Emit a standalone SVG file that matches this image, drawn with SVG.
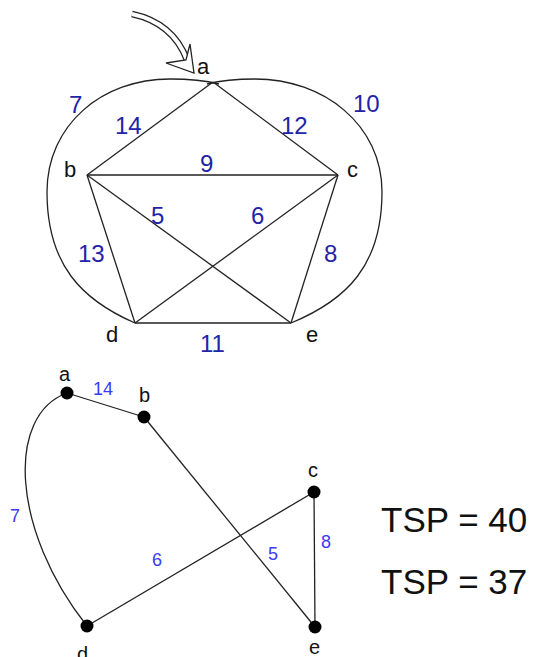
<svg xmlns="http://www.w3.org/2000/svg" width="533" height="657" viewBox="0 0 533 657">
<style>
.e{fill:none;stroke:#222;stroke-width:1.3}
.lbl{font-family:"Liberation Sans",Arial,sans-serif;fill:#111}
.w1{font-family:"Liberation Sans",Arial,sans-serif;fill:#2323a8;font-size:24px}
.w2{font-family:"Liberation Sans",Arial,sans-serif;fill:#3a3af5;font-size:18px}
.dot{fill:#000}
</style>
<rect width="533" height="657" fill="#fff"/>
<g id="start-arrow">
<path d="M132,14 C160,20 178,36 187,60" fill="none" stroke="#222" stroke-width="6.5"/>
<path d="M132,14 C160,20 178,36 187,60" fill="none" stroke="#fff" stroke-width="4"/>
<polygon points="166,63 194,73 190,44 186,60" fill="#fff" stroke="#222" stroke-width="1.3" stroke-linejoin="miter"/>
</g>
<g id="edges-top">
<path class="e" d="M219,84 C203,80 190,79 170,79 C102,79 47,125 47,192 C47,265 82,300 135,323"/>
<path class="e" d="M207,84 C223,80 236,79 255,79 C324,79 382,125 382,192 C382,265 347,300 291,323"/>
<line class="e" x1="213" y1="82" x2="87" y2="175"/>
<line class="e" x1="213" y1="82" x2="338" y2="175"/>
<line class="e" x1="87" y1="175" x2="338" y2="175"/>
<line class="e" x1="87" y1="175" x2="135" y2="323"/>
<line class="e" x1="87" y1="175" x2="291" y2="323"/>
<line class="e" x1="338" y1="175" x2="135" y2="323"/>
<line class="e" x1="338" y1="175" x2="291" y2="323"/>
<line class="e" x1="135" y1="323" x2="291" y2="323"/>
</g>
<g id="nodes-top">
<g id="ta"><text class="lbl" x="197" y="74" font-size="22">a</text></g>
<g id="tb"><text class="lbl" x="64" y="177" font-size="22">b</text></g>
<g id="tc"><text class="lbl" x="347" y="177" font-size="22">c</text></g>
<g id="td"><text class="lbl" x="106" y="342" font-size="22">d</text></g>
<g id="te"><text class="lbl" x="306" y="342" font-size="22">e</text></g>
</g>
<g id="weights-top">
<text class="w1" x="69" y="113">7</text>
<text class="w1" x="115" y="134">14</text>
<text class="w1" x="281" y="134">12</text>
<text class="w1" x="353" y="112">10</text>
<text class="w1" x="200" y="172">9</text>
<text class="w1" x="151" y="224">5</text>
<text class="w1" x="251" y="224">6</text>
<text class="w1" x="78" y="262">13</text>
<text class="w1" x="324" y="262">8</text>
<text class="w1" x="200" y="352">11</text>
</g>
<g id="edges-bottom">
<line class="e" x1="67" y1="393" x2="144" y2="417"/>
<line class="e" x1="144" y1="417" x2="315" y2="627"/>
<line class="e" x1="314" y1="492" x2="87" y2="626"/>
<line class="e" x1="314" y1="492" x2="315" y2="627"/>
<path class="e" d="M67,393 C6,415 11,530 87,626"/>
</g>
<g id="nodes-bottom">
<g id="ba"><circle class="dot" cx="67" cy="393" r="6.5"/><text class="lbl" x="59" y="381" font-size="20">a</text></g>
<g id="bb"><circle class="dot" cx="144" cy="417" r="6.5"/><text class="lbl" x="139" y="402" font-size="20">b</text></g>
<g id="bc"><circle class="dot" cx="314" cy="492" r="6.5"/><text class="lbl" x="308" y="477" font-size="20">c</text></g>
<g id="bd"><circle class="dot" cx="87" cy="626" r="6.5"/><text class="lbl" x="77" y="661" font-size="20">d</text></g>
<g id="be"><circle class="dot" cx="315" cy="627" r="6.5"/><text class="lbl" x="309" y="654" font-size="20">e</text></g>
</g>
<g id="weights-bottom">
<text class="w2" x="93" y="395">14</text>
<text class="w2" x="10" y="522">7</text>
<text class="w2" x="152" y="566">6</text>
<text class="w2" x="268" y="560">5</text>
<text class="w2" x="321" y="548">8</text>
</g>
<g id="results">
<text class="lbl" x="381" y="532" font-size="35">TSP = 40</text>
<text class="lbl" x="381" y="594" font-size="35">TSP = 37</text>
</g>
</svg>
